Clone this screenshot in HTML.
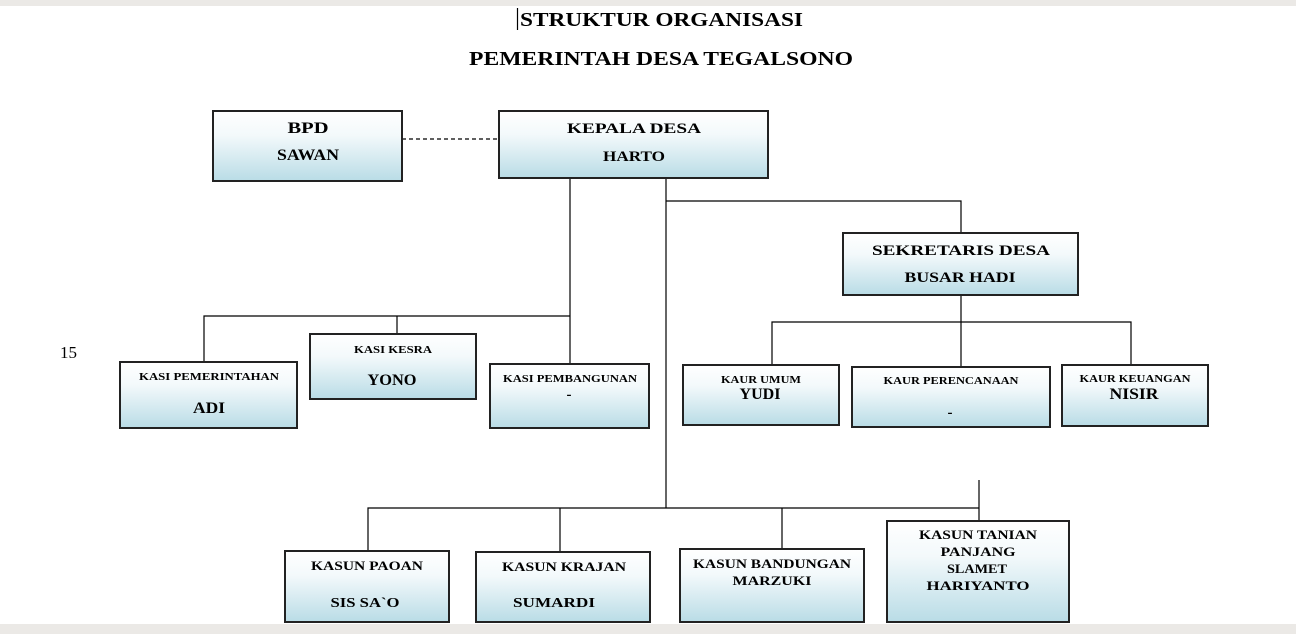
<!DOCTYPE html>
<html><head><meta charset="utf-8"><style>
html,body{margin:0;padding:0;background:#fff;}
svg{display:block}
text{font-family:"Liberation Serif",serif;font-weight:bold;fill:#000}
</style></head><body>
<svg width="1296" height="634" viewBox="0 0 1296 634" xmlns="http://www.w3.org/2000/svg">
<defs>
<linearGradient id="g" x1="0" y1="0" x2="0" y2="1">
<stop offset="0" stop-color="#ffffff"/><stop offset="0.35" stop-color="#f3f9fb"/><stop offset="1" stop-color="#b9dce6"/>
</linearGradient>
</defs>
<rect x="0" y="0" width="1296" height="6" fill="#ebe9e6"/>
<rect x="0" y="624" width="1296" height="10" fill="#ebe9e6"/>
<line x1="517.5" y1="8" x2="517.5" y2="30" stroke="#000" stroke-width="1.2"/>
<text x="520" y="26" font-size="20" textLength="283" lengthAdjust="spacingAndGlyphs">STRUKTUR ORGANISASI</text>
<text x="469" y="65" font-size="20" textLength="384" lengthAdjust="spacingAndGlyphs">PEMERINTAH DESA TEGALSONO</text>
<text x="60" y="358" font-size="17" style="font-weight:normal">15</text>
<g stroke="#000" stroke-width="1.2" fill="none">
<line x1="402" y1="139" x2="499" y2="139" stroke-dasharray="4,3"/>
<polyline points="570,178 570,364"/>
<polyline points="204,362 204,316 570,316"/>
<line x1="397" y1="316" x2="397" y2="334"/>
<line x1="666" y1="178" x2="666" y2="508"/>
<polyline points="666,201 961,201 961,233"/>
<line x1="961" y1="295" x2="961" y2="367"/>
<polyline points="772,365 772,322 1131,322 1131,365"/>
<polyline points="368,551 368,508 979,508"/>
<line x1="979" y1="480" x2="979" y2="521"/>
<line x1="560" y1="508" x2="560" y2="552"/>
<line x1="782" y1="508" x2="782" y2="549"/>
</g>
<g stroke="#222" stroke-width="2" fill="url(#g)">
<rect x="213" y="111" width="189" height="70"/>
<rect x="499" y="111" width="269" height="67"/>
<rect x="843" y="233" width="235" height="62"/>
<rect x="120" y="362" width="177" height="66"/>
<rect x="310" y="334" width="166" height="65"/>
<rect x="490" y="364" width="159" height="64"/>
<rect x="683" y="365" width="156" height="60"/>
<rect x="852" y="367" width="198" height="60"/>
<rect x="1062" y="365" width="146" height="61"/>
<rect x="285" y="551" width="164" height="71"/>
<rect x="476" y="552" width="174" height="70"/>
<rect x="680" y="549" width="184" height="73"/>
<rect x="887" y="521" width="182" height="101"/>
</g>
<g text-anchor="middle" lengthAdjust="spacingAndGlyphs">
<text x="308" y="133" font-size="16" textLength="41" lengthAdjust="spacingAndGlyphs">BPD</text>
<text x="308" y="160" font-size="16" textLength="62" lengthAdjust="spacingAndGlyphs">SAWAN</text>
<text x="634" y="133" font-size="15" textLength="134" lengthAdjust="spacingAndGlyphs">KEPALA DESA</text>
<text x="634" y="161" font-size="15" textLength="62" lengthAdjust="spacingAndGlyphs">HARTO</text>
<text x="961" y="255" font-size="15" textLength="178" lengthAdjust="spacingAndGlyphs">SEKRETARIS DESA</text>
<text x="960" y="282" font-size="15" textLength="111" lengthAdjust="spacingAndGlyphs">BUSAR HADI</text>
<text x="209" y="380" font-size="11" textLength="140" lengthAdjust="spacingAndGlyphs">KASI PEMERINTAHAN</text>
<text x="209" y="413" font-size="16" textLength="32" lengthAdjust="spacingAndGlyphs">ADI</text>
<text x="393" y="353" font-size="11" textLength="78" lengthAdjust="spacingAndGlyphs">KASI KESRA</text>
<text x="392" y="385" font-size="16" textLength="49" lengthAdjust="spacingAndGlyphs">YONO</text>
<text x="570" y="382" font-size="11" textLength="134" lengthAdjust="spacingAndGlyphs">KASI PEMBANGUNAN</text>
<text x="569" y="399" font-size="15">-</text>
<text x="761" y="383" font-size="11" textLength="80" lengthAdjust="spacingAndGlyphs">KAUR UMUM</text>
<text x="760" y="399" font-size="16" textLength="41" lengthAdjust="spacingAndGlyphs">YUDI</text>
<text x="951" y="384" font-size="11" textLength="135" lengthAdjust="spacingAndGlyphs">KAUR PERENCANAAN</text>
<text x="950" y="417" font-size="15">-</text>
<text x="1135" y="382" font-size="11" textLength="111" lengthAdjust="spacingAndGlyphs">KAUR KEUANGAN</text>
<text x="1134" y="399" font-size="16" textLength="49" lengthAdjust="spacingAndGlyphs">NISIR</text>
<text x="367" y="570" font-size="13" textLength="112" lengthAdjust="spacingAndGlyphs">KASUN PAOAN</text>
<text x="365" y="607" font-size="14" textLength="69" lengthAdjust="spacingAndGlyphs">SIS SA`O</text>
<text x="564" y="571" font-size="13" textLength="124" lengthAdjust="spacingAndGlyphs">KASUN KRAJAN</text>
<text x="554" y="607" font-size="14" textLength="82" lengthAdjust="spacingAndGlyphs">SUMARDI</text>
<text x="772" y="568" font-size="13" textLength="158" lengthAdjust="spacingAndGlyphs">KASUN BANDUNGAN</text>
<text x="772" y="585" font-size="13" textLength="79" lengthAdjust="spacingAndGlyphs">MARZUKI</text>
<text x="978" y="539" font-size="13" textLength="118" lengthAdjust="spacingAndGlyphs">KASUN TANIAN</text>
<text x="978" y="556" font-size="13" textLength="75" lengthAdjust="spacingAndGlyphs">PANJANG</text>
<text x="977" y="573" font-size="13" textLength="60" lengthAdjust="spacingAndGlyphs">SLAMET</text>
<text x="978" y="590" font-size="13" textLength="103" lengthAdjust="spacingAndGlyphs">HARIYANTO</text>
</g>
</svg>
</body></html>
